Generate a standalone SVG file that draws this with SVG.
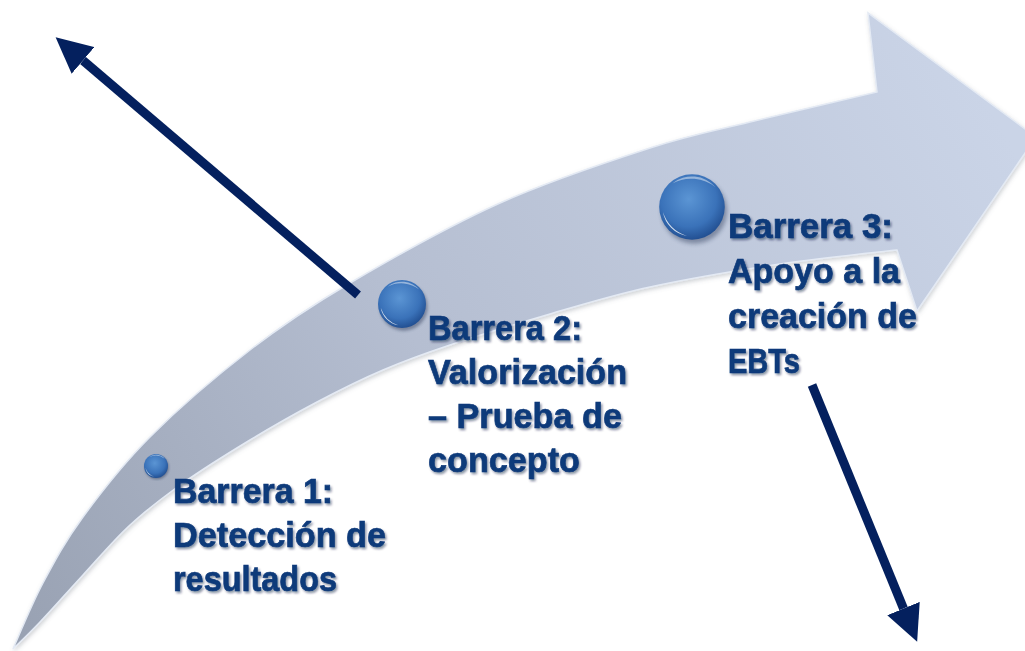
<svg xmlns="http://www.w3.org/2000/svg" xmlns:xlink="http://www.w3.org/1999/xlink" width="1025" height="651" viewBox="0 0 1025 651">
  <style>
    .lbl { font-family: "Liberation Sans", Arial, sans-serif; font-weight: bold; font-size: 35px; fill: #0f3a7a; stroke: #0f3a7a; stroke-width: 0.7px; filter: url(#txtShadow); }
    .conn { stroke: #04205e; stroke-width: 9; fill: none; stroke-linecap: butt; marker-end: url(#head); }
  </style>
  <defs>
    <linearGradient id="bandGrad" gradientUnits="userSpaceOnUse" x1="13" y1="649" x2="980" y2="90">
      <stop offset="0" stop-color="#98a1b2"/>
      <stop offset="0.45" stop-color="#b5bed1"/>
      <stop offset="1" stop-color="#cad4e7"/>
    </linearGradient>
    <radialGradient id="sphereGrad" cx="0.45" cy="0.38" r="0.65">
      <stop offset="0" stop-color="#5b95d4"/>
      <stop offset="0.65" stop-color="#3a72b9"/>
      <stop offset="1" stop-color="#1f4b8d"/>
    </radialGradient>
    <filter id="txtShadow" x="-10%" y="-30%" width="130%" height="170%">
      <feDropShadow dx="1.5" dy="2" stdDeviation="1.3" flood-color="#0a1a3a" flood-opacity="0.45"/>
    </filter>
    <filter id="sphShadow" x="-50%" y="-50%" width="200%" height="200%">
      <feGaussianBlur stdDeviation="0.07"/>
    </filter>
    <filter id="bandShadow" x="-5%" y="-5%" width="110%" height="110%">
      <feDropShadow dx="1" dy="2" stdDeviation="2" flood-color="#606878" flood-opacity="0.3"/>
    </filter>
    <symbol id="sphere" viewBox="-1.25 -1.25 2.5 2.5">
      <circle cx="0.07" cy="0.12" r="1" fill="#1c2c4c" opacity="0.4" filter="url(#sphShadow)"/>
      <circle cx="0" cy="0" r="1" fill="url(#sphereGrad)"/>
      <path d="M -0.886,0.156 A 0.9 0.9 0 0 0 -0.156,0.886 A 1.15 1.15 0 0 1 -0.886,0.156 Z" fill="#ffffff" opacity="0.8"/>
      <path d="M -0.6,-0.72 A 0.95 0.95 0 0 1 0.72,-0.6 A 1.2 1.2 0 0 0 -0.6,-0.72 Z" fill="#ffffff" opacity="0.45"/>
    </symbol>
    <marker id="head" viewBox="0 -18 37 36" refX="0" refY="0" markerWidth="37" markerHeight="36" markerUnits="userSpaceOnUse" orient="auto">
      <path d="M0,-17.5 L36,0 L0,17.5 Z" fill="#04205e"/>
    </marker>
  </defs>

  <rect x="0" y="0" width="1025" height="651" fill="#ffffff"/>

  <g id="band" filter="url(#bandShadow)">
    <path fill="url(#bandGrad)" stroke="#e4eaf4" stroke-width="1.5" d="M13,649
      C18,638 31.3,605 43,583
      C54.7,561 65.2,541.3 83,517
      C100.8,492.7 122.2,464.8 150,437
      C177.8,409.2 216.7,375.7 250,350
      C283.3,324.3 308.3,307.5 350,283
      C391.7,258.5 450,225.5 500,203
      C550,180.5 608.3,161.5 650,148
      C691.7,134.5 712.2,131.3 750,122
      C787.8,112.7 855.8,97 877,92
      L868,13 L1036,137 L917,311 L897,250
      C877.5,252.3 821.2,257.8 780,264
      C738.8,270.2 688.3,278.7 650,287
      C611.7,295.3 583.3,304.3 550,314
      C516.7,323.7 477.8,335.7 450,345
      C422.2,354.3 405.2,360.5 383,370
      C360.8,379.5 339.2,390.3 317,402
      C294.8,413.7 272.3,426.5 250,440
      C227.7,453.5 203,468.8 183,483
      C163,497.2 146.7,509.7 130,525
      C113.3,540.3 98,558.8 83,575
      C68,591.2 51.7,609.7 40,622
      C28.3,634.3 17.5,644.5 13,649 Z"/>
  </g>

  <g id="connectors">
    <line class="conn" x1="358" y1="295" x2="83" y2="60.5"/>
    <line class="conn" x1="812" y1="385" x2="903.5" y2="608.5"/>
  </g>

  <g id="barrera1">
    <use href="#sphere" x="141" y="451" width="30" height="30"/>
    <text class="lbl"><tspan x="173" y="503" textLength="160" lengthAdjust="spacingAndGlyphs">Barrera 1:</tspan><tspan x="173" y="547" textLength="213" lengthAdjust="spacingAndGlyphs">Detección de</tspan><tspan x="173" y="591" textLength="164" lengthAdjust="spacingAndGlyphs">resultados</tspan></text>
  </g>

  <g id="barrera2">
    <use href="#sphere" x="372" y="274" width="60" height="60"/>
    <text class="lbl"><tspan x="428" y="340" textLength="154" lengthAdjust="spacingAndGlyphs">Barrera 2:</tspan><tspan x="428" y="384" textLength="199" lengthAdjust="spacingAndGlyphs">Valorización</tspan><tspan x="428" y="428" textLength="194" lengthAdjust="spacingAndGlyphs">– Prueba de</tspan><tspan x="428" y="472" textLength="152" lengthAdjust="spacingAndGlyphs">concepto</tspan></text>
  </g>

  <g id="barrera3">
    <use href="#sphere" x="651" y="166" width="82" height="82"/>
    <text class="lbl"><tspan x="728" y="238" textLength="165" lengthAdjust="spacingAndGlyphs">Barrera 3:</tspan><tspan x="728" y="283" textLength="172" lengthAdjust="spacingAndGlyphs">Apoyo a la</tspan><tspan x="728" y="328" textLength="189" lengthAdjust="spacingAndGlyphs">creación de</tspan><tspan x="728" y="373" textLength="72" lengthAdjust="spacingAndGlyphs">EBTs</tspan></text>
  </g>
</svg>
